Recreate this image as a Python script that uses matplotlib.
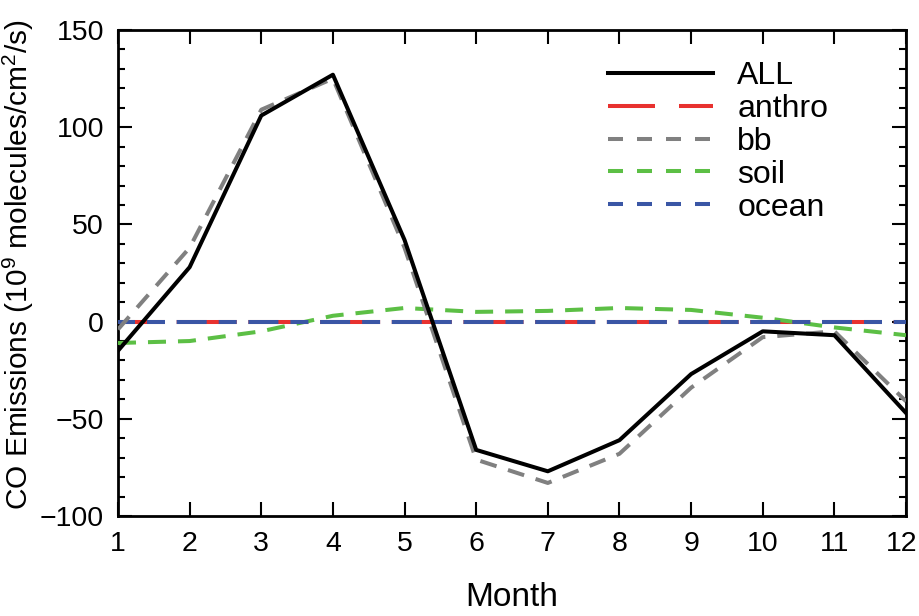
import matplotlib
matplotlib.use("Agg")
import matplotlib.pyplot as plt
import matplotlib.transforms as mtransforms
from matplotlib.ticker import MultipleLocator
from matplotlib.lines import Line2D

months = [1, 2, 3, 4, 5, 6, 7, 8, 9, 10, 11, 12]
all_src = [-15, 28, 106, 127, 42, -66, -77, -61, -27, -5, -7, -47]
anthro = [0, 0, 0, 0, 0, 0, 0, 0, 0, 0, 0, 0]
bb = [-4, 38, 109, 125, 38, -71, -83, -68, -34, -8, -5, -41]
soil = [-11, -10, -5, 3, 7, 5, 5.5, 7, 6, 2, -3, -7]
ocean = [0, 0, 0, 0, 0, 0, 0, 0, 0, 0, 0, 0]
labels = ['ALL', 'anthro', 'bb', 'soil', 'ocean']

plt.rcParams['font.family'] = ['Liberation Sans', 'DejaVu Sans']
plt.rcParams['mathtext.fontset'] = 'custom'
plt.rcParams['mathtext.rm'] = 'Liberation Sans'
plt.rcParams['mathtext.it'] = 'Liberation Sans'
plt.rcParams['lines.scale_dashes'] = False

c_all, c_anthro, c_bb, c_soil, c_ocean = 'black', '#e8312f', '#808080', '#5cbf45', '#3a56a5'

fig = plt.figure(figsize=(9.19, 6.16), dpi=100)
ax = fig.add_axes([118/919, 1-516/616, (906-118)/919, (516-30)/616])

lw = 2.9
p = 0.72  # px -> pt
ax.plot(months, all_src, color=c_all, lw=lw, linestyle='-', zorder=5)
ax.plot(months, anthro, color=c_anthro, lw=lw,
        linestyle=(13*p, (60*p, 11.7*p)), zorder=3)
ax.plot(months, ocean, color=c_ocean, lw=lw,
        linestyle=(13*p, (30*p, 12*p, 18*p, 11.7*p)), zorder=3.5)
ax.plot(months, soil, color=c_soil, lw=lw, linestyle=(0, (18*p, 12*p)), zorder=3.2)
ax.plot(months, bb, color=c_bb, lw=lw, linestyle=(0, (17*p, 12*p)), zorder=4)

ax.set_xlim(1, 12)
ax.set_ylim(-100, 150)
ax.set_xticks(months)
ax.yaxis.set_major_locator(MultipleLocator(50))
ax.yaxis.set_minor_locator(MultipleLocator(10))
ax.tick_params(axis='both', which='both', direction='in', top=True, right=True, labelsize=20.5, width=1.5)
ax.tick_params(axis='both', which='major', length=10)
ax.tick_params(axis='both', which='minor', length=5)
ax.tick_params(axis='x', pad=11)
ax.tick_params(axis='y', pad=10)
for s in ax.spines.values():
    s.set_linewidth(2.0)

# nudge the last month label inward so it stays inside the figure, as in the reference
fig.canvas.draw()
last = ax.get_xticklabels()[-1]
last.set_transform(last.get_transform() + mtransforms.ScaledTranslation(-4/100, 0, fig.dpi_scale_trans))

ax.set_xlabel('Month', fontsize=24)
ax.xaxis.set_label_coords(0.5, -0.136)
ax.set_ylabel('CO Emissions (10$^9$ molecules/cm$^2$/s)', fontsize=21.5)
ax.yaxis.set_label_coords(-0.104, 0.516)

handles = [
    Line2D([], [], color=c_all, lw=lw, linestyle='-'),
    Line2D([], [], color=c_anthro, lw=lw, linestyle=(0, (47*p, 24*p))),
    Line2D([], [], color=c_bb, lw=lw, linestyle=(0, (15*p, 14*p))),
    Line2D([], [], color=c_soil, lw=lw, linestyle=(0, (15*p, 14*p))),
    Line2D([], [], color=c_ocean, lw=lw, linestyle=(0, (15*p, 14*p))),
]
leg = ax.legend(handles, labels, loc='upper left', bbox_to_anchor=(608/919, 1-61/616),
                bbox_transform=fig.transFigure, frameon=False, fontsize=23,
                handlelength=3.3, handletextpad=0.75, labelspacing=0.09,
                borderpad=0, borderaxespad=0)

fig.savefig('out.png', dpi=100)
